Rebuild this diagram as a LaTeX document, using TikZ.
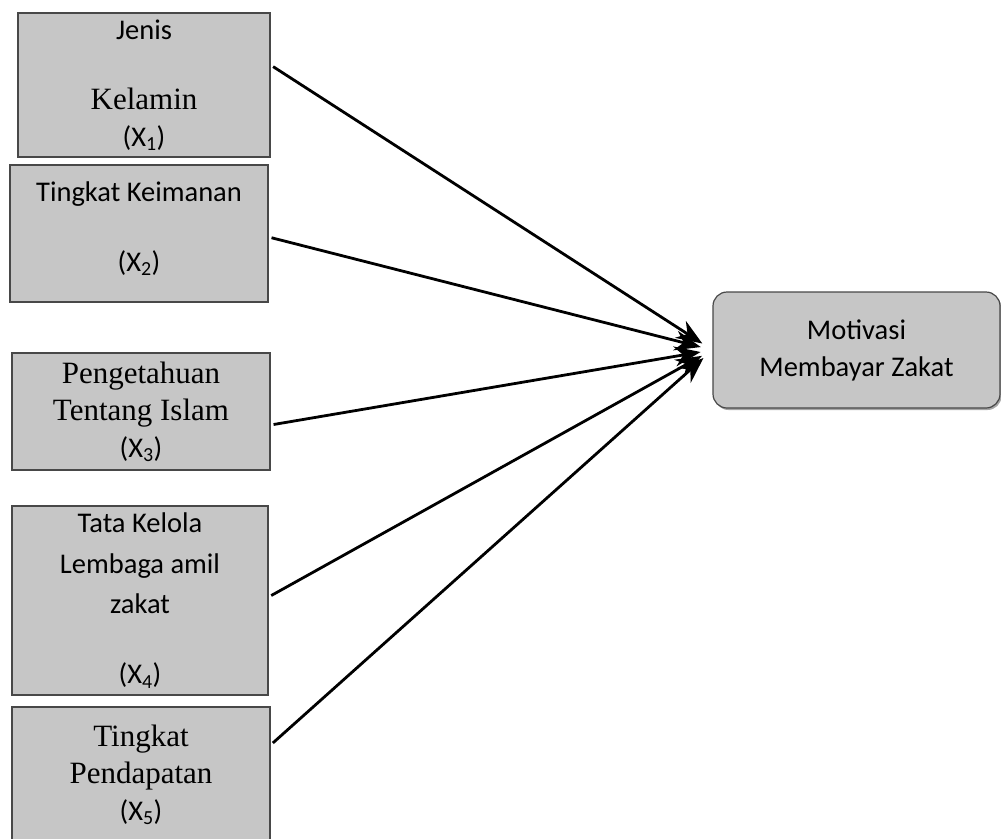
\documentclass[tikz,border=0pt]{standalone}
\usepackage{fontspec}
\usetikzlibrary{arrows.meta,shadows}
\newfontfamily\calib{Carlito}
\newfontfamily\tnr{Liberation Serif}
\newcommand{\serifline}[1]{{\fontsize{31}{37}\tnr #1}}
\definecolor{boxgray}{HTML}{C6C6C6}
\definecolor{edgegray}{HTML}{484848}

\begin{document}
\begin{tikzpicture}[x=1pt, y=-1pt,
      every node/.style={font=\fontsize{28.5}{37}\calib},
      varbox/.style={draw=edgegray, line width=1.2pt, fill=boxgray,
          align=center, inner sep=0pt},
      goalbox/.style={varbox, rounded corners=14pt,
          drop shadow={shadow xshift=1.5pt, shadow yshift=-2pt, opacity=0.7}},
      link/.style={-{Stealth[length=26pt,width=20pt]}, line width=2.8pt,
          shorten <=3pt, shorten >=12pt}]
    \useasboundingbox (0,0) rectangle (1001,838);
    % variabel bebas
    \node[varbox, minimum width=252pt, minimum height=144pt] (X1) at (144,85)
        {Jenis\\[33pt]\serifline{Kelamin}\\(X\textsubscript{1})};
    \node[varbox, minimum width=258pt, minimum height=137pt, text depth=14pt] (X2) at (139,233.5)
        {Tingkat Keimanan\\[33pt](X\textsubscript{2})};
    \node[varbox, minimum width=258pt, minimum height=117pt] (X3) at (141,411.5)
        {\serifline{Pengetahuan}\\\serifline{Tentang Islam}\\(X\textsubscript{3})};
    \node[varbox, minimum width=256pt, minimum height=189pt] (X4) at (140,600.5)
        {Tata Kelola\\[4pt]Lembaga amil\\[3pt]zakat\\[33pt](X\textsubscript{4})};
    \node[varbox, minimum width=258pt, minimum height=138pt, text depth=7pt] (X5) at (141,776)
        {\serifline{Tingkat}\\\serifline{Pendapatan}\\(X\textsubscript{5})};
    % variabel terikat
    \node[goalbox, minimum width=287pt, minimum height=116pt] (Y) at (856.5,350)
        {Motivasi\\Membayar Zakat};
    \draw[link] ([yshift=20pt]X1.east) -- (Y.west);
    \draw[link] ([yshift=-3.5pt]X2.east) -- (Y.west);
    \draw[link] ([yshift=-13.5pt]X3.east) -- (Y.west);
    \draw[link] ([yshift=3.5pt]X4.east) -- (Y.west);
    \draw[link] ([yshift=31pt]X5.east) -- (Y.west);
\end{tikzpicture}
\end{document}
